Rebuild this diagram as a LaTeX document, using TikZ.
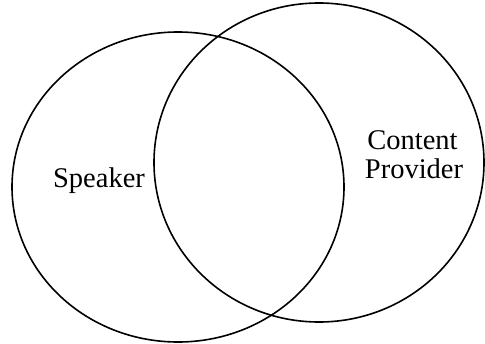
\documentclass[tikz,border=0pt]{standalone}
\usepackage{fontspec}
\setmainfont{Liberation Serif}
\begin{document}
\begin{tikzpicture}[x=1pt,y=-1pt,
  set/.style={draw=black,line width=1.6pt},
  lbl/.style={font=\fontsize{28.5}{30}\selectfont,inner sep=0pt,anchor=base}]
\useasboundingbox (0,0) rectangle (485,343);
\draw[set] (178,187) ellipse [x radius=166,y radius=155];
\draw[set] (319,162.5) ellipse [x radius=165,y radius=159.5];
\node[lbl] (speaker) at (99,187) {Speaker};
\node[lbl] (content) at (412.5,149) {Content};
\node[lbl] (provider) at (414,178) {Provider};
\end{tikzpicture}
\end{document}
